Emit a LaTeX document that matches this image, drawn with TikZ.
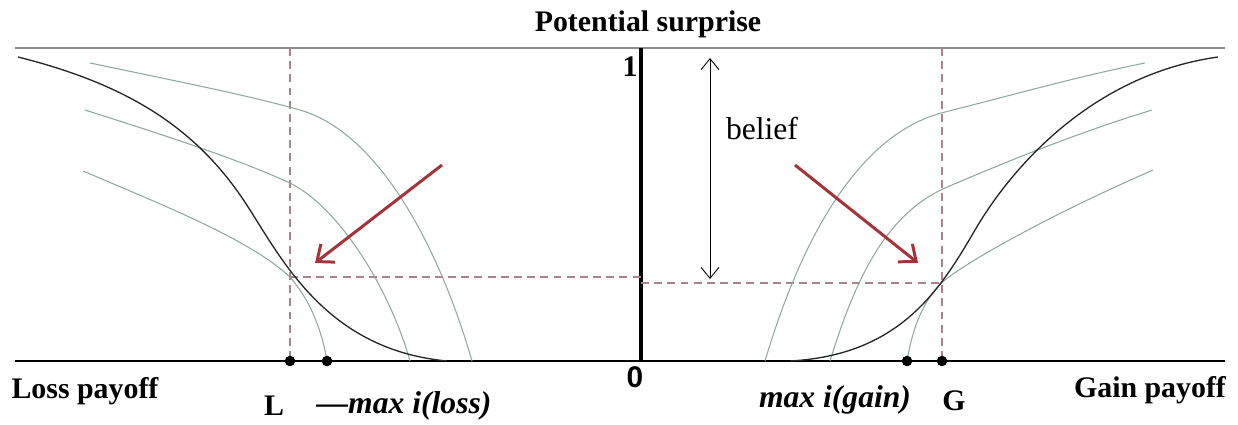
\documentclass[tikz,border=0pt]{standalone}
\usepackage{fontspec}
\setmainfont{Liberation Serif}
\setsansfont{Liberation Sans}
\usetikzlibrary{arrows.meta}
\definecolor{Frame}{HTML}{8C8C8C}
\definecolor{Curve}{HTML}{8FAA9C}
\definecolor{Guide}{HTML}{A9828A}
\definecolor{Pointer}{HTML}{A3343C}

\begin{document}
\begin{tikzpicture}[x=0.02cm,y=-0.02cm,
    lbl/.style={font=\fontsize{17}{19}\selectfont\bfseries,inner sep=0pt},
    ital/.style={font=\fontsize{18}{20}\selectfont\bfseries\itshape,inner sep=0pt},
    curve/.style={draw=Curve,line width=0.6pt},
    util/.style={draw=black!85,line width=0.75pt},
    guide/.style={draw=Guide,line width=0.7pt,dash pattern=on 4.5pt off 3pt},
    pointer/.style={-{Straight Barb[length=2.8mm,width=4.6mm]},draw=Pointer,line width=1.7pt},
    dot/.style={circle,fill=black,inner sep=0pt,minimum size=6pt}]
  \useasboundingbox (0,0) rectangle (1238,424);
  % axes
  \draw[Frame,line width=1.2pt] (15,48) -- (1225,48);
  \draw[line width=0.8pt] (15,361) -- (1225,361);
  \draw[line width=1.8pt] (641,48) -- (641,361);
  \node[lbl] (title) at (648,24) {Potential surprise};
  \node[lbl] (one) at (630,67) {1};
  \node[font=\fontsize{17}{19}\selectfont\sffamily\bfseries,inner sep=0pt] (zero) at (635,377) {0};
  \node[lbl] (losslab) at (85,391) {Loss payoff};
  \node[lbl] (gainlab) at (1150,390) {Gain payoff};
  \node[lbl] (Llab) at (274,406) {L};
  \node[ital] (maxloss) at (404,406) {—max i(loss)};
  \node[ital] (maxgain) at (835,400) {max i(gain)};
  \node[lbl] (Glab) at (954,401) {G};
  % guides
  \coordinate (Lpt) at (290,277);
  \coordinate (Gpt) at (942,283);
  \draw[guide] (290,48) -- (290,361);
  \draw[guide] (942,48) -- (942,361);
  \draw[guide] (Lpt) -- (641,277);
  \draw[guide] (641,283) -- (Gpt);
  % loss side
  \draw[curve] (90,63) .. controls (200,86) and (250,96) .. (300,110)
    .. controls (380,133) and (440,250) .. (472,361);
  \draw[curve] (85,110) .. controls (170,137) and (240,160) .. (290,183)
    .. controls (340,208) and (390,290) .. (410,361);
  \draw[curve] (83,171) .. controls (170,208) and (250,240) .. (290,277)
    .. controls (310,300) and (322,330) .. (327,361);
  \draw[util] (18,57) .. controls (130,85) and (200,130) .. (250,210)
    .. controls (285,265) and (330,350) .. (447,361);
  % gain side
  \draw[curve] (765,361) .. controls (795,260) and (850,135) .. (945,112)
    .. controls (1020,93) and (1080,76) .. (1145,63);
  \draw[curve] (830,361) .. controls (855,280) and (885,215) .. (945,188)
    .. controls (1010,160) and (1080,132) .. (1152,110);
  \draw[curve] (907,361) .. controls (913,325) and (925,297) .. (945,280)
    .. controls (970,260) and (1050,215) .. (1153,170);
  \draw[util] (790,361) .. controls (900,355) and (940,290) .. (975,230)
    .. controls (1010,170) and (1090,75) .. (1218,57);
  % points on the axis
  \node[dot] (dL) at (290,361) {};
  \node[dot] (dloss) at (327,361) {};
  \node[dot] (dgain) at (907,361) {};
  \node[dot] (dG) at (942,361) {};
  % belief
  \coordinate (btop) at (710,58);
  \coordinate (bbot) at (710,279);
  \draw[{Straight Barb[length=2.2mm,width=3.6mm]}-{Straight Barb[length=2.2mm,width=3.6mm]},line width=0.5pt] (btop) -- (bbot);
  \node[font=\fontsize{18}{20}\selectfont,inner sep=0pt] (belief) at (762,129) {belief};
  \draw[pointer] (442,165) -- ([shift={(25,-14)}]Lpt);
  \draw[pointer] (795,165) -- ([shift={(-24,-20)}]Gpt);
\end{tikzpicture}
\end{document}
